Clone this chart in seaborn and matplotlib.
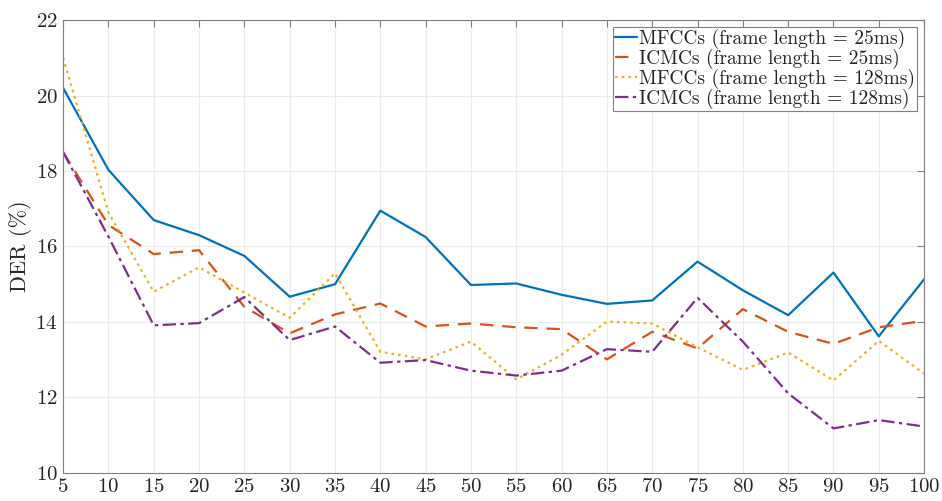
import pandas as pd
import seaborn as sns
import matplotlib.pyplot as plt

frames = list(range(5, 105, 5))
mfcc_25 = [20.2, 18.03, 16.7, 16.3, 15.75, 14.67, 15.0, 16.95, 16.25, 14.98,
           15.02, 14.72, 14.48, 14.57, 15.6, 14.84, 14.18, 15.31, 13.62, 15.13]
icmc_25 = [18.5, 16.57, 15.8, 15.9, 14.4, 13.7, 14.2, 14.49, 13.88, 13.96,
           13.86, 13.81, 13.01, 13.74, 13.3, 14.34, 13.74, 13.42, 13.86, 14.03]
mfcc_128 = [21.0, 16.9, 14.8, 15.45, 14.78, 14.11, 15.29, 13.21, 13.01, 13.48,
            12.48, 13.13, 14.01, 13.96, 13.33, 12.73, 13.19, 12.45, 13.5, 12.63]
icmc_128 = [18.5, 16.26, 13.91, 13.97, 14.66, 13.52, 13.88, 12.92, 12.99, 12.71,
            12.58, 12.71, 13.28, 13.21, 14.64, 13.48, 12.11, 11.18, 11.4, 11.23]

labels = ["MFCCs (frame length = 25ms)", "ICMCs (frame length = 25ms)",
          "MFCCs (frame length = 128ms)", "ICMCs (frame length = 128ms)"]

df = pd.DataFrame({"x": frames * 4,
                   "y": mfcc_25 + icmc_25 + mfcc_128 + icmc_128,
                   "series": [l for l in labels for _ in frames]})

sns.set_style("whitegrid")
plt.rcParams["font.family"] = ["cmr10", "DejaVu Serif"]
plt.rcParams["axes.formatter.use_mathtext"] = True

colors = ["#0072BD", "#D95319", "#EDB120", "#7E2F8E"]
styles = [(None, None), (6, 4), (1.2, 1.8), (6, 2, 1.5, 2)]

fig = plt.figure(figsize=(9.42, 5.01), dpi=100)
ax = fig.add_axes([0.067, 0.056, 0.914, 0.904])
sns.lineplot(data=df, x="x", y="y", hue="series", style="series",
             palette=colors, dashes=styles, linewidth=1.6, ax=ax)

ax.set_xlim(5, 100)
ax.set_ylim(10, 22)
ax.set_xticks(frames)
ax.set_yticks(range(10, 23, 2))
ax.set_xlabel("")
ax.set_ylabel("DER (%)", fontsize=16, labelpad=2)
ax.tick_params(labelsize=15, direction="in", length=5, color="#808080",
               top=True, right=True, pad=4)
ax.grid(True, color="#ebebeb", linewidth=0.8)
for s in ax.spines.values():
    s.set_color("#808080")
    s.set_linewidth(0.8)

leg = ax.legend(loc="upper right", fontsize=14, handlelength=1.15,
                handletextpad=0.1, borderpad=0.1, labelspacing=0.0,
                fancybox=False, framealpha=1, borderaxespad=0.35)
leg.get_frame().set_edgecolor("#808080")
leg.get_frame().set_linewidth(0.8)

fig.savefig("out.png", dpi=100)
